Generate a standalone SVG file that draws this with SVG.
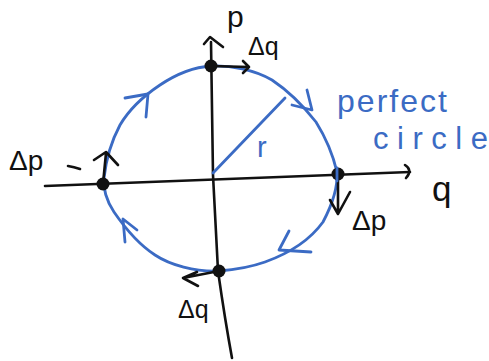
<svg xmlns="http://www.w3.org/2000/svg" width="489" height="361" viewBox="0 0 489 361">
<style>
.k{fill:none;stroke:#111;stroke-width:2.6;stroke-linecap:round;stroke-linejoin:round}
.b{fill:none;stroke:#3b6bc4;stroke-width:2.8;stroke-linecap:round;stroke-linejoin:round}
.dot{fill:#111}
.tk{font-family:"Liberation Sans",Arial,sans-serif;fill:#111}
.tb{font-family:"Liberation Sans",Arial,sans-serif;fill:#3b6bc4}
</style>
<rect width="489" height="361" fill="#fff"/>
<g id="axes">
<path class="k" d="M45,186 L410,172"/>
<path class="k" d="M405,165 Q413,170 406,178"/>
<path class="k" d="M211,42 L213,175 Q216,230 218,271 Q225,320 232,358"/>
<path class="k" d="M204,44 L210,37 L223,47"/>
<text class="tk" x="227" y="27" font-size="30">p</text>
<text class="tk" x="432" y="201" font-size="35">q</text>
</g>
<g id="circle">
<path class="b" d="M211,66 C230,65 255,70 272,80 C290,92 305,108 316,122 C326,138 333,155 337,172 C338,188 332,205 323,222 C310,240 290,253 265,262 C248,268 232,270 219,271 C195,272 170,265 155,255 C138,244 125,228 114,212 C106,200 103,190 104,178 C106,160 112,140 120,125 C130,108 145,95 160,85 C178,73 195,67 211,66 Z"/>
<path class="b" d="M125,98 L148,94 L146,117"/>
<path class="b" d="M307,90 L312,110 L292,105"/>
<path class="b" d="M289,231 L279,250 L311,252"/>
<path class="b" d="M125,242 L123,219 L137,230"/>
<path class="b" d="M213,173 L285,98"/>
<text class="tb" x="257" y="157" font-size="29">r</text>
<text class="tb" x="337" y="112" font-size="32" textLength="110" lengthAdjust="spacing">perfect</text>
<text class="tb" x="373" y="149" font-size="31" textLength="115" lengthAdjust="spacing">circle</text>
</g>
<g id="top-point">
<path class="k" d="M211,66 L249,67 M243,61 L249,67 L243,73"/>
<circle class="dot" cx="211" cy="66" r="6.5"/>
<text class="tk" x="248" y="55" font-size="25">Δq</text>
</g>
<g id="right-point">
<path class="k" d="M338,174 L338,213 M330,200 L338,214 L350,192"/>
<circle class="dot" cx="338" cy="174" r="6.5"/>
<path class="b" d="M337,168 L337,181"/>
<text class="tk" x="352" y="230" font-size="28">Δp</text>
</g>
<g id="bottom-point">
<path class="k" d="M219,271 L183,278 M197,272 L183,278 L198,286"/>
<circle class="dot" cx="219" cy="271" r="6.5"/>
<text class="tk" x="178" y="318" font-size="25">Δq</text>
</g>
<g id="left-point">
<path class="k" d="M103,184 L106,153 M94,160 L106,152 L118,165"/>
<path class="k" d="M68,166 Q74,167 80,169"/>
<circle class="dot" cx="103" cy="184" r="6.5"/>
<text class="tk" x="9" y="170" font-size="28">Δp</text>
</g>
</svg>
